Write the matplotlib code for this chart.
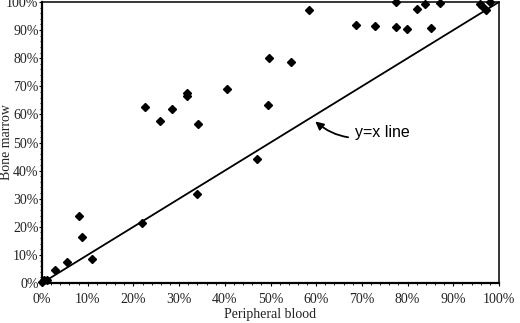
import numpy as np
import matplotlib
matplotlib.use("Agg")
import matplotlib.pyplot as plt
from matplotlib.ticker import MultipleLocator, FuncFormatter

# peripheral blood vs bone marrow (%)
pb = [0, 0.5, 1, 2.8, 5.5, 8.0, 8.7, 10.9, 21.9, 22.5, 25.9, 28.4, 31.8, 31.8,
      34.1, 33.9, 40.5, 47.0, 49.5, 49.7, 54.5, 58.4, 68.8, 72.9, 77.5, 77.5,
      79.9, 82.1, 83.9, 85.1, 87.0, 95.9, 96.2, 97.1, 98.0]
bm = [0.5, 1, 1, 4.8, 7.3, 24, 16.2, 8.4, 21.5, 62.8, 57.7, 61.8, 67.7, 66.6,
      56.5, 31.8, 69.2, 44.3, 63.3, 80, 78.5, 97.0, 91.9, 91.4, 91.0, 100,
      90.3, 97.4, 99.3, 90.7, 99.6, 99.3, 98.6, 97.0, 100]
diag = [0, 100]

fig = plt.figure(figsize=(5.2, 3.23), dpi=100)
ax = fig.add_axes([0.0808, 0.1238, 0.8788, 0.8700])

ax.plot(diag, diag, color="black", lw=1.3)
ax.plot(pb, bm, "D", color="black", ms=3.6, clip_on=False, zorder=3)

ax.set_xlim(0, 100)
ax.set_ylim(0, 100)

pct = FuncFormatter(lambda v, p: "%d%%" % v)
ax.xaxis.set_major_locator(MultipleLocator(10))
ax.yaxis.set_major_locator(MultipleLocator(10))
ax.xaxis.set_minor_locator(MultipleLocator(2))
ax.yaxis.set_minor_locator(MultipleLocator(2))
ax.xaxis.set_major_formatter(pct)
ax.yaxis.set_major_formatter(pct)

for lab in ax.get_xticklabels() + ax.get_yticklabels():
    lab.set_family("Liberation Serif")
    lab.set_color("#222222")
ax.tick_params(which="major", length=2.5, width=0.8, labelsize=10)
ax.tick_params(axis="x", which="major", pad=4.5)
ax.tick_params(axis="y", which="major", pad=0)
ax.tick_params(which="minor", length=1.5, width=0.6)

for s in ["left", "bottom"]:
    ax.spines[s].set_linewidth(1.6)
for s in ["top", "right"]:
    ax.spines[s].set_linewidth(1.1)

ax.set_xlabel("Peripheral blood", family="Liberation Serif", fontsize=10,
              color="#222222", labelpad=1.5)
# y label placed by hand, close to the left edge as in the original
fig.text(7 / 520, 0.56, "Bone marrow", family="Liberation Serif", fontsize=10,
         color="#222222", rotation=90, ha="center", va="center")

ax.annotate("y=x line", xy=(59.8, 57.5), xytext=(68.5, 53.5),
            fontsize=11.5, family="Liberation Sans", va="center", ha="left",
            arrowprops=dict(arrowstyle="-|>", color="black", lw=1.3,
                            mutation_scale=12, shrinkA=3, shrinkB=0,
                            connectionstyle="arc3,rad=-0.3"))

fig.savefig("out.png", dpi=100)
